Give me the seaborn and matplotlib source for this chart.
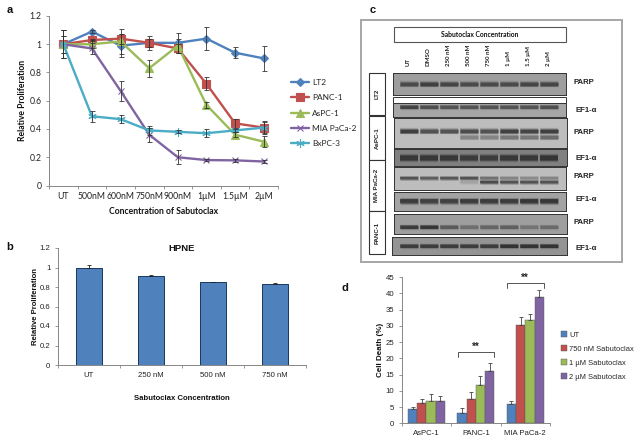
import numpy as np
import pandas as pd
import seaborn as sns
import matplotlib.pyplot as plt
from matplotlib.patches import Rectangle

# panel a
doses_a = ['UT', '500nM', '600nM', '750nM', '900nM', '1µM', '1.5µM', '2µM']
lt2 = [1.0, 1.09, 0.99, 1.01, 1.01, 1.04, 0.94, 0.90]
panc1 = [1.0, 1.03, 1.04, 1.01, 0.97, 0.72, 0.44, 0.41]
aspc1 = [1.0, 1.0, 1.02, 0.83, 0.99, 0.57, 0.36, 0.31]
mia = [1.0, 0.97, 0.67, 0.36, 0.20, 0.18, 0.178, 0.17]
bxpc3 = [1.0, 0.49, 0.47, 0.39, 0.38, 0.37, 0.39, 0.41]
lt2_err = [0.10, 0.01, 0.08, 0.03, 0.07, 0.08, 0.04, 0.09]
panc1_err = [0.10, 0.01, 0.035, 0.05, 0.03, 0.045, 0.03, 0.045]
aspc1_err = [0.06, 0.03, 0.09, 0.06, 0.05, 0.02, 0.02, 0.04]
mia_err = [0.10, 0.04, 0.07, 0.05, 0.05, 0.01, 0.01, 0.01]
bxpc3_err = [0.06, 0.04, 0.03, 0.03, 0.01, 0.03, 0.01, 0.04]

# panel b
doses_b = ['UT', '250 nM', '500 nM', '750 nM']
hpne = [1.0, 0.91, 0.85, 0.83]
hpne_err = [0.03, 0.01, 0.005, 0.008]

# panel d
lines_d = ['AsPC-1', 'PANC-1', 'MIA PaCa-2']
treatments = ['UT', '750 nM Sabutoclax', '1 µM Sabutoclax', '2 µM Sabutoclax']
death_ut = [4.4, 3.2, 6.0]
death_750 = [6.3, 7.6, 30.2]
death_1 = [6.9, 11.8, 31.9]
death_2 = [7.0, 16.1, 38.7]
err_ut = [0.7, 1.5, 0.9]
err_750 = [1.1, 2.1, 2.6]
err_1 = [2.0, 2.8, 1.8]
err_2 = [1.5, 2.5, 2.3]

# panel c, band darkness per lane
lanes_c = ['UT', 'DMSO', '250 nM', '500 nM', '750 nM', '1 µM', '1.5 µM', '2 µM']
lt2_parp = [0.8, 0.9, 0.85, 0.8, 0.8, 0.8, 0.85, 0.85]
lt2_ef1 = [0.9, 0.8, 0.75, 0.75, 0.75, 0.75, 0.75, 0.8]
aspc_parp = [1.0, 0.85, 0.85, 0.9, 0.85, 1.0, 0.95, 1.0]
aspc_parp_cl = [0.0, 0.0, 0.0, 0.45, 0.45, 0.55, 0.55, 0.65]
aspc_ef1 = [0.85, 0.85, 0.85, 0.8, 0.8, 0.85, 0.85, 0.9]
mia_parp = [0.85, 0.75, 0.8, 0.85, 0.6, 0.45, 0.4, 0.45]
mia_parp_cl = [0.0, 0.0, 0.0, 0.2, 0.9, 0.85, 0.85, 0.85]
mia_ef1 = [0.95, 0.9, 0.9, 0.95, 0.95, 0.95, 1.0, 1.0]
panc_parp = [0.95, 1.0, 0.65, 0.45, 0.55, 0.6, 0.4, 0.5]
panc_ef1 = [0.9, 0.9, 0.9, 0.9, 0.9, 1.0, 1.0, 1.0]

W, H = 640, 443
BLUE, RED, GREEN, PURPLE, CYAN = '#4F81BD', '#C0504D', '#9BBB59', '#8064A2', '#4BACC6'
AXIS = '#868686'

sns.set_theme(style='white')
plt.rcParams['font.family'] = ['Liberation Sans', 'DejaVu Sans']
plt.rcParams['axes.linewidth'] = 0.7

fig = plt.figure(figsize=(6.4, 4.43), dpi=100, facecolor='white')


def box(x0, y0, x1, y1, **kw):
    return fig.add_axes([x0 / W, 1 - y1 / H, (x1 - x0) / W, (y1 - y0) / H], **kw)


def fig_text(x, y, s, **kw):
    kw.setdefault('ha', 'center')
    kw.setdefault('va', 'center')
    fig.text(x / W, 1 - y / H, s, **kw)


def excel_axes(ax, labels, fs, family='Liberation Sans'):
    # category ticks sit between the groups, as in Excel
    for s in ['top', 'right']:
        ax.spines[s].set_visible(False)
    for s in ['left', 'bottom']:
        ax.spines[s].set_color(AXIS)
    n = len(labels)
    ax.set_xlim(-0.5, n - 0.5)
    ax.set_xticks(np.arange(n + 1) - 0.5, [''] * (n + 1))
    ax.set_xticks(np.arange(n), labels, minor=True, fontsize=fs, family=family, color='#222222')
    ax.tick_params(axis='x', which='major', length=2.5, width=0.6, color=AXIS, bottom=True)
    ax.tick_params(axis='x', which='minor', length=0, pad=5)
    ax.tick_params(axis='y', length=2.5, width=0.6, color=AXIS, left=True, labelsize=fs, labelcolor='#222222', pad=3)
    for t in ax.get_yticklabels():
        t.set_family(family)


# a: dose response lines
ax = box(49, 16, 278, 185.5)
series = [('LT2', lt2, lt2_err, BLUE, 'D', 4.5),
          ('PANC-1', panc1, panc1_err, RED, 's', 6),
          ('AsPC-1', aspc1, aspc1_err, GREEN, '^', 6),
          ('MIA PaCa-2', mia, mia_err, PURPLE, 'x', 5),
          ('BxPC-3', bxpc3, bxpc3_err, CYAN, (6, 2, 0), 6)]
for name, vals, errs, col, mk, ms in series:
    df = pd.DataFrame({'dose': doses_a, 'value': vals})
    sns.lineplot(data=df, x='dose', y='value', color=col, marker=mk, markersize=ms, markeredgecolor=col,
                 markeredgewidth=0.8, linewidth=1.7, sort=False, label=name, ax=ax, zorder=3)
    ax.errorbar(np.arange(8), vals, yerr=errs, fmt='none', ecolor='#333333', elinewidth=0.6, capsize=1.8,
                capthick=0.6, zorder=4)
ax.set_ylim(0, 1.2)
ax.set_yticks([0, 0.2, 0.4, 0.6, 0.8, 1, 1.2], ['0', '0.2', '0.4', '0.6', '0.8', '1', '1.2'])
excel_axes(ax, doses_a, 6.2, 'Lato')
ax.set_xlabel('Concentration of Sabutoclax', fontsize=6.2, fontweight='bold', family='Lato', labelpad=4, color='#111111')
ax.set_ylabel('Relative Proliferation', fontsize=6.2, fontweight='bold', family='Lato', labelpad=1.5, color='#111111')
ax.legend(loc='upper left', bbox_to_anchor=(291 / W, 1 - 79 / H), bbox_transform=fig.transFigure, frameon=False,
          borderpad=0, borderaxespad=0, labelspacing=1.0, handlelength=2.1, handletextpad=0.4,
          prop={'family': 'Lato', 'size': 6})

# b: HPNE bars
ax = box(58, 248, 306, 365)
df = pd.DataFrame({'dose': doses_b, 'value': hpne})
sns.barplot(data=df, x='dose', y='value', color=BLUE, saturation=1, width=0.405, edgecolor='#17375E', linewidth=0.7, ax=ax)
ax.errorbar(np.arange(4), hpne, yerr=[[0] * 4, hpne_err], fmt='none', ecolor='#222222', elinewidth=0.6, capsize=1.5, capthick=0.6)
ax.set_ylim(0, 1.2)
ax.set_yticks([0, 0.2, 0.4, 0.6, 0.8, 1, 1.2], ['0', '0.2', '0.4', '0.6', '0.8', '1', '1.2'])
excel_axes(ax, doses_b, 5.6)
ax.set_xlabel('Sabutoclax Concentration', fontsize=5.6, fontweight='bold', labelpad=11.5, color='#111111')
ax.set_ylabel('Relative Proliferation', fontsize=5.6, fontweight='bold', labelpad=0, color='#111111')
ax.set_title('HPNE', fontsize=6.8, fontweight='bold', pad=-2, color='#111111')

# d: cell death bars
ax = box(401.7, 277, 550, 423.3)
death = pd.DataFrame({'line': np.tile(lines_d, 4), 'treatment': np.repeat(treatments, 3),
                      'value': death_ut + death_750 + death_1 + death_2})
sns.barplot(data=death, x='line', y='value', hue='treatment', palette=[BLUE, RED, GREEN, PURPLE], saturation=1,
            width=0.75, gap=0, edgecolor='#555555', linewidth=0.3, ax=ax)
for k, errs in enumerate([err_ut, err_750, err_1, err_2]):
    xs = np.arange(3) + (k - 1.5) * 0.75 / 4
    vals = death.value[death.treatment == treatments[k]].values
    ax.errorbar(xs, vals, yerr=[[0] * 3, errs], fmt='none', ecolor='#444444', elinewidth=0.6, capsize=1.5, capthick=0.6)
ax.set_ylim(0, 45)
ax.set_yticks(np.arange(0, 46, 5))
excel_axes(ax, lines_d, 5.6)
ax.set_xlabel('')
ax.set_ylabel('Cell Death (%)', fontsize=5.8, fontweight='bold', labelpad=1, color='#111111')
for cat, top, tip in [(1, 22.0, 20.3), (2, 43.2, 41.5)]:
    ax.plot([cat - 0.37, cat - 0.37, cat + 0.37, cat + 0.37], [tip, top, top, tip], color='#555555', lw=0.7, clip_on=False)
    ax.text(cat, top + 1.4, '**', ha='center', va='center', fontsize=7, fontweight='bold', clip_on=False)
ax.legend(loc='upper left', bbox_to_anchor=(561 / W, 1 - 331 / H), bbox_transform=fig.transFigure, frameon=False,
          borderpad=0, borderaxespad=0, fontsize=5.4, labelspacing=0.85, handlelength=0.75, handleheight=0.9,
          handletextpad=0.3)

# c: western blots on a full-figure layer for the frame, one axes per strip
frame = box(0, 0, W, H)
frame.set_xlim(0, W)
frame.set_ylim(H, 0)
frame.axis('off')
frame.patch.set_alpha(0)
frame.add_patch(Rectangle((361, 20), 261, 242, fc='white', ec='#A6A6A6', lw=1.4))
frame.add_patch(Rectangle((393.5, 27), 172, 14.5, fc='white', ec='#555555', lw=0.8))
fig_text(479.5, 34.3, 'Sabutoclax Concentration', fontsize=4.9, fontweight='bold', family='Lato', color='#111111')
for i, lane in enumerate(lanes_c):
    fig_text(408.5 + 20 * i, 66.5, lane, rotation=90, va='bottom', fontsize=4.4, fontweight='bold', family='Lato', color='#222222')
for y0, y1, name in [(73, 115, 'LT2'), (116, 160, 'AsPC-1'), (160, 211, 'MIA PaCa-2'), (211, 254, 'PANC-1')]:
    frame.add_patch(Rectangle((369, y0), 15.5, y1 - y0, fc='white', ec='#333333', lw=0.8))
    fig_text(377, (y0 + y1) / 2, name, rotation=90, fontsize=4.4, fontweight='bold', color='#222222')

strips = [
    ('PARP', 392.5, 73, 566, 95, 0.62, 84, lt2_parp, None, None, 573, 83, 3.0),
    ('EF1-α', 392.5, 103, 566, 117, 0.65, 107, lt2_ef1, None, None, 575, 110, 2.6),
    ('PARP', 393.5, 118, 566.5, 148, 0.74, 131, aspc_parp, aspc_parp_cl, 137, 573, 133, 3.0),
    ('EF1-α', 393.5, 149, 566.5, 165.5, 0.5, 158, aspc_ef1, None, None, 575, 159, 4.0),
    ('PARP', 393.5, 167, 566, 190, 0.74, 178, mia_parp, mia_parp_cl, 182, 573, 176, 2.2),
    ('EF1-α', 393.5, 192, 566, 211, 0.64, 201, mia_ef1, None, None, 575, 200, 3.4),
    ('PARP', 393.5, 214, 566.5, 234, 0.62, 227, panc_parp, None, None, 573, 223, 2.6),
    ('EF1-α', 392, 237, 567, 254.5, 0.58, 246, panc_ef1, None, None, 575, 249, 2.6),
]
frame.hlines(97, 392.5, 566, color='#333333', lw=0.7)
frame.vlines([392.5, 566], 96.5, 103, color='#333333', lw=0.7)
for label, x0, y0, x1, y1, bg, yb, top_band, low_band, yl, xt, yt, thick in strips:
    st = box(x0, y0, x1, y1)
    st.set_facecolor(str(bg))
    st.set_xlim((x0 - 409) / 20, (x1 - 409) / 20)
    st.set_ylim(y1, y0)
    st.set_xticks([])
    st.set_yticks([])
    for s in st.spines.values():
        s.set_color('#333333')
        s.set_linewidth(0.7)
    for vals, yy in [(top_band, yb), (low_band, yl)]:
        if vals is None:
            continue
        for lane, d in enumerate(vals):
            if d <= 0:
                continue
            col = str(round(bg * (1 - d * 0.7), 3))
            for lw, a in [(thick * 1.5, 0.25), (thick * 1.1, 0.5), (thick * 0.8, 0.85)]:
                st.hlines(yy, lane - 0.46, lane + 0.46, color=col, lw=lw, alpha=a)
    fig_text(xt, yt, label, ha='left', fontsize=5.6, fontweight='bold', color='#222222')

# panel letters
for x, y, s in [(10, 10, 'a'), (10, 247, 'b'), (373, 10, 'c'), (345, 288, 'd')]:
    fig_text(x, y, s, fontsize=8, fontweight='bold', color='#111111')

fig.savefig('out.png', dpi=100)
